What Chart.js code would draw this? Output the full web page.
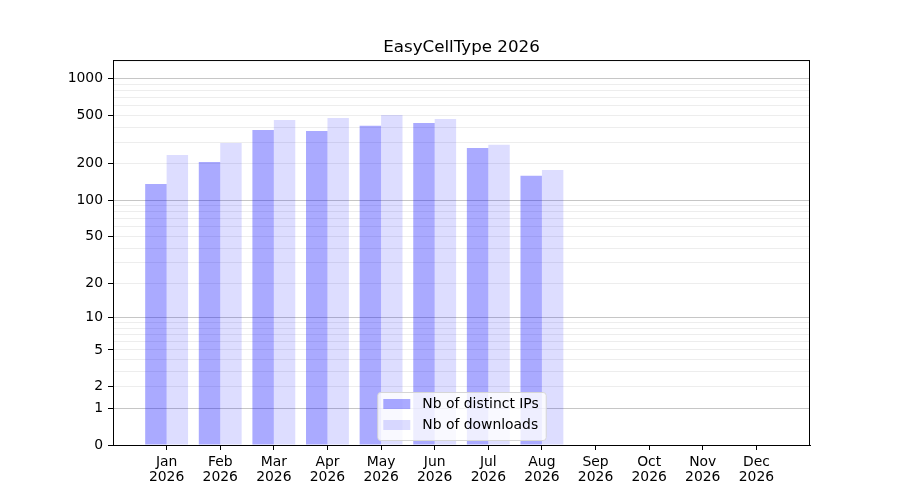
<!DOCTYPE html>
<html lang="en">
<head>
  <meta charset="UTF-8">
  <title>EasyCellType 2026</title>
  <script src="https://cdn.jsdelivr.net/npm/chart.js"></script>
  <style>
    body { margin: 0; background: #fff; }
    canvas { display: block; }
  </style>
</head>
<body>
  <canvas id="statsChart" width="900" height="500"></canvas>
  <script>
    const year = '2026';
    const months = ['Jan', 'Feb', 'Mar', 'Apr', 'May', 'Jun', 'Jul', 'Aug', 'Sep', 'Oct', 'Nov', 'Dec'];
    const distinctIps = [136, 207, 379, 372, 410, 433, 270, 159, 0, 0, 0, 0];
    const downloads = [236, 296, 458, 475, 504, 467, 286, 178, 0, 0, 0, 0];
    const yLabelled = [0, 1, 2, 5, 10, 20, 50, 100, 200, 500, 1000];
    const yMajor = [1, 10, 100, 1000];
    const yMax = 1420;

    // every grid value: 0, 1..9, 10..90, 100..900, 1000
    const yGrid = [0];
    [1, 10, 100].forEach(d => { for (let k = 1; k < 10; k++) yGrid.push(k * d); });
    yGrid.push(1000);

    // y scale drawn as log10(1 + v)
    class Log1pScale extends Chart.Scale {
      determineDataLimits() {
        const { min, max } = this.getMinMax(true);
        this.min = this.options.min ?? Math.max(0, min);
        this.max = this.options.max ?? max;
      }
      buildTicks() {
        return yGrid.filter(v => v >= this.min && v <= this.max).map(v => ({ value: v }));
      }
      configure() {
        super.configure();
        this._startT = Math.log10(1 + this.min);
        this._rangeT = Math.log10(1 + this.max) - this._startT;
      }
      getLabelForValue(v) {
        return String(v);
      }
      getPixelForValue(v) {
        if (v === undefined || v === null || isNaN(v)) return NaN;
        return this.getPixelForDecimal((Math.log10(1 + v) - this._startT) / this._rangeT);
      }
      getValueForPixel(p) {
        const d = this.getDecimalForPixel(p);
        return Math.pow(10, this._startT + d * this._rangeT) - 1;
      }
    }
    Log1pScale.id = 'log1p';
    Log1pScale.defaults = {};
    Chart.register(Log1pScale);

    // frame + legend inside the plot
    const framePlugin = {
      id: 'frame',
      afterDatasetsDraw(chart) {
        const { ctx, chartArea: a } = chart;
        const sets = chart.data.datasets;
        ctx.save();
        ctx.font = '13.9px "DejaVu Sans"';
        const textW = Math.max(...sets.map(s => ctx.measureText(s.label).width));
        const w = 6 + 27 + 12 + textW + 7;
        const h = 48;
        const x = (a.left + a.right) / 2 - w / 2;
        const y = a.bottom - 5 - h;
        ctx.beginPath();
        ctx.roundRect(x + 0.5, y + 0.5, w, h, 3);
        ctx.fillStyle = 'rgba(255,255,255,0.8)';
        ctx.fill();
        ctx.strokeStyle = '#d6d6d6';
        ctx.lineWidth = 1;
        ctx.stroke();
        sets.forEach((s, i) => {
          const ry = y + 7 + i * 21;
          ctx.fillStyle = s.backgroundColor;
          ctx.fillRect(x + 6, ry, 27, 10);
          ctx.fillStyle = '#000';
          ctx.textBaseline = 'middle';
          ctx.fillText(s.label, x + 45, ry + 5);
        });
        ctx.strokeStyle = '#000';
        ctx.strokeRect(a.left + 0.5, a.top + 0.5, a.right - a.left - 1, a.bottom - a.top);
        ctx.restore();
      }
    };

    const ctx = document.getElementById('statsChart').getContext('2d');
    new Chart(ctx, {
      type: 'bar',
      data: {
        datasets: [{
          label: 'Nb of distinct IPs',
          data: months.map((m, i) => ({ x: i, y: distinctIps[i] })),
          backgroundColor: 'rgba(0, 0, 255, 0.333)',
          borderWidth: 0
        }, {
          label: 'Nb of downloads',
          data: months.map((m, i) => ({ x: i, y: downloads[i] })),
          backgroundColor: 'rgba(0, 0, 255, 0.133)',
          borderWidth: 0
        }]
      },
      options: {
        responsive: false,
        animation: false,
        categoryPercentage: 0.8,
        barPercentage: 1.0,
        layout: { padding: { top: 38, right: 90, left: 0, bottom: 0 } },
        plugins: {
          legend: { display: false },
          tooltip: { enabled: false },
          title: {
            display: true,
            fullSize: false,
            text: 'EasyCellType ' + year,
            color: '#000',
            font: { family: 'DejaVu Sans', size: 16.7, weight: 'normal', lineHeight: 1.2 },
            padding: { top: 0, bottom: 2 }
          }
        },
        scales: {
          x: {
            type: 'linear',
            min: -1,
            max: 12,
            offset: false,
            afterBuildTicks: scale => { scale.ticks = months.map((m, i) => ({ value: i })); },
            afterFit: scale => { scale.height = 55; },
            border: { color: '#000', width: 1 },
            grid: { display: true, offset: false, drawOnChartArea: false, drawTicks: true, tickLength: 5, tickColor: '#000' },
            ticks: {
              autoSkip: false,
              maxRotation: 0,
              padding: 5,
              color: '#000',
              font: { family: 'DejaVu Sans', size: 13.9, lineHeight: 1.08 },
              callback: v => [months[v], year]
            }
          },
          y: {
            type: 'log1p',
            min: 0,
            max: yMax,
            afterFit: scale => { scale.width = 113; },
            border: { color: '#000', width: 1 },
            grid: {
              color: c => c.tick.value === 0 ? 'rgba(0,0,0,0)'
                : yMajor.includes(c.tick.value) ? '#c6c6c6' : '#ededed',
              tickColor: c => yLabelled.includes(c.tick.value) ? '#000' : 'rgba(0,0,0,0)',
              tickLength: 5,
              lineWidth: 1
            },
            ticks: {
              autoSkip: false,
              padding: 5,
              color: '#000',
              font: { family: 'DejaVu Sans', size: 13.9 },
              callback: v => yLabelled.includes(v) ? String(v) : ''
            }
          }
        }
      },
      plugins: [framePlugin]
    });
  </script>
</body>
</html>
